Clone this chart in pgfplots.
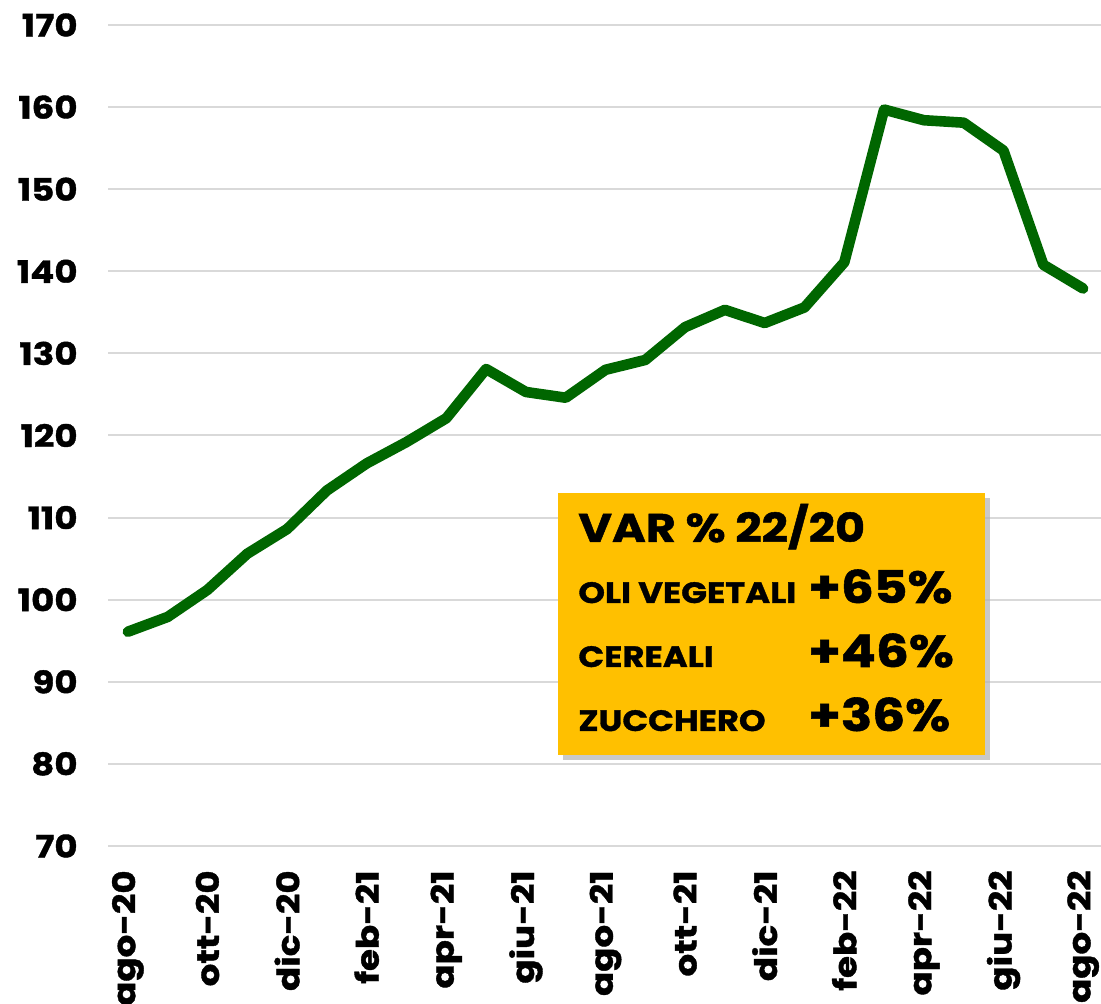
\documentclass[border=0pt]{standalone}
\usepackage{pgfplots}
\pgfplotsset{compat=1.18}
\usepackage{fontspec}
\setmainfont{Poppins}[BoldFont={* Bold}, BoldFeatures={FakeStretch=1.15, FakeBold=1.2}]
\usetikzlibrary{shadows}
\definecolor{lgreen}{HTML}{006600}
\definecolor{boxfill}{HTML}{FFC000}
\definecolor{gridc}{HTML}{D9D9D9}
\begin{document}
\begin{tikzpicture}[x=1pt,y=1pt]
\begin{axis}[
  at={(0,0)}, anchor=south west,
  scale only axis,
  width=496.5pt, height=410.5pt,
  xmin=-0.5, xmax=24.45,
  ymin=70, ymax=170,
  ytick={70,80,...,170},
  xtick={0,2,...,24},
  xticklabels={ago-20,ott-20,dic-20,feb-21,apr-21,giu-21,ago-21,ott-21,dic-21,feb-22,apr-22,giu-22,ago-22},
  axis line style={draw=none},
  major tick length=0pt,
  ymajorgrids,
  grid style={gridc, line width=1pt},
  every tick label/.append style={font=\fontsize{15.5}{17}\selectfont\bfseries, inner sep=0pt},
  yticklabel style={anchor=east},
  yticklabel shift=15pt,
  xticklabel style={rotate=90, anchor=east},
  xticklabel shift=12pt,
  /pgf/number format/assume math mode=true,
  clip=false,
]
\addplot[lgreen, line width=5.3pt, line join=round, line cap=round] coordinates {
(0,96.1)(1,97.9)(2,101.2)(3,105.6)(4,108.6)(5,113.3)(6,116.6)(7,119.2)(8,122.1)
(9,128.1)(10,125.3)(11,124.6)(12,128.0)(13,129.2)(14,133.2)(15,135.3)(16,133.7)
(17,135.6)(18,141.1)(19,159.7)(20,158.4)(21,158.1)(22,154.7)(23,140.8)(24,137.9)};
\end{axis}
\fill[boxfill, drop shadow={shadow xshift=2.5pt, shadow yshift=-2.5pt, fill=gray!60, opacity=0.7}] (225pt,45.5pt) rectangle (438.5pt,176.5pt);
\node[anchor=base west, inner sep=0pt, font=\fontsize{20}{22}\selectfont\bfseries] at (235pt,152pt) {VAR \% 22/20};
\node[anchor=base west, inner sep=0pt, font=\fontsize{14.7}{18}\selectfont\bfseries] at (235pt,121.5pt) {OLI VEGETALI};
\node[anchor=base west, inner sep=0pt, font=\fontsize{14.7}{18}\selectfont\bfseries] at (235pt,89.5pt) {CEREALI};
\node[anchor=base west, inner sep=0pt, font=\fontsize{14.7}{18}\selectfont\bfseries] at (235pt,57.5pt) {ZUCCHERO};
\node[anchor=base west, inner sep=0pt, font=\fontsize{22.5}{27}\selectfont\bfseries] at (350pt,121.5pt) {+65\%};
\node[anchor=base west, inner sep=0pt, font=\fontsize{22.5}{27}\selectfont\bfseries] at (350pt,89.5pt) {+46\%};
\node[anchor=base west, inner sep=0pt, font=\fontsize{22.5}{27}\selectfont\bfseries] at (350pt,57.5pt) {+36\%};
\pgfresetboundingbox
\path[use as bounding box] (-54pt,-79pt) rectangle (496.5pt,423pt);
\end{tikzpicture}
\end{document}
